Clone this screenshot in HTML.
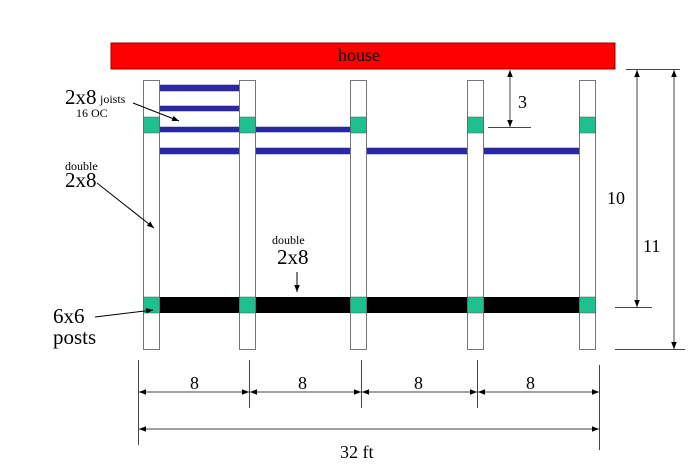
<!DOCTYPE html>
<html><head><style>body{margin:0;background:#fff}svg{display:block}text{font-family:"Liberation Serif",serif;fill:#000}</style></head><body>
<svg width="700" height="466" viewBox="0 0 700 466" xmlns="http://www.w3.org/2000/svg">
<defs><marker id="a" viewBox="0 0 10 10" refX="10" refY="5" markerWidth="7" markerHeight="7" orient="auto-start-reverse"><path d="M0,1L10,5L0,9z" fill="#000"/></marker></defs>
<rect x="111" y="43" width="504" height="26" fill="#f00" stroke="#900" stroke-width="1"/>
<text x="338" y="61" font-size="18">house</text>
<g fill="#2a2aa8" stroke="#1a1a80" stroke-width="0.5">
<rect x="159" y="85" width="80" height="6"/>
<rect x="159" y="106" width="80" height="5"/>
<rect x="159" y="127" width="191" height="5"/>
<rect x="159" y="148" width="420" height="6"/>
</g>
<rect x="159" y="297" width="420" height="16" fill="#000"/>
<g fill="#fff" stroke="#777" stroke-width="1">
<rect x="143.5" y="80.5" width="16" height="269"/>
<rect x="239.5" y="80.5" width="16" height="269"/>
<rect x="350.5" y="80.5" width="16" height="269"/>
<rect x="467.5" y="80.5" width="16" height="269"/>
<rect x="579.5" y="80.5" width="16" height="269"/>
</g>
<g fill="#1ec090" stroke="#555" stroke-width="0.5">
<rect x="143.5" y="117" width="16" height="16"/><rect x="239.5" y="117" width="16" height="16"/><rect x="350.5" y="117" width="16" height="16"/><rect x="467.5" y="117" width="16" height="16"/><rect x="579.5" y="117" width="16" height="16"/>
<rect x="143.5" y="297" width="16" height="16"/><rect x="239.5" y="297" width="16" height="16"/><rect x="350.5" y="297" width="16" height="16"/><rect x="467.5" y="297" width="16" height="16"/><rect x="579.5" y="297" width="16" height="16"/>
</g>
<g stroke="#000" stroke-width="1" fill="none">
<line x1="133" y1="103" x2="179" y2="121" marker-end="url(#a)"/>
<line x1="97" y1="183" x2="154" y2="228" marker-end="url(#a)"/>
<line x1="95" y1="317" x2="153" y2="310" marker-end="url(#a)"/>
<line x1="297" y1="272" x2="297" y2="292" marker-end="url(#a)"/>
</g>
<text x="65" y="104" font-size="21">2x8</text>
<text x="100" y="103" font-size="12">joists</text>
<text x="76" y="117" font-size="12">16 OC</text>
<text x="65" y="170" font-size="12">double</text>
<text x="65" y="187" font-size="21">2x8</text>
<text x="272" y="244" font-size="12">double</text>
<text x="277" y="264" font-size="21">2x8</text>
<text x="53" y="323" font-size="21">6x6</text>
<text x="53" y="344" font-size="21">posts</text>
<g stroke="#444" stroke-width="1" fill="none">
<line x1="488" y1="127.5" x2="531" y2="127.5"/>
<line x1="510" y1="70" x2="510" y2="127" marker-start="url(#a)" marker-end="url(#a)"/>
<line x1="626" y1="69.5" x2="680" y2="69.5"/>
<line x1="615" y1="307.5" x2="652" y2="307.5"/>
<line x1="615" y1="349.5" x2="685" y2="349.5"/>
<line x1="637" y1="70" x2="637" y2="307" marker-start="url(#a)" marker-end="url(#a)"/>
<line x1="674" y1="70" x2="674" y2="349" marker-start="url(#a)" marker-end="url(#a)"/>
<line x1="138.5" y1="360" x2="138.5" y2="445"/>
<line x1="249.5" y1="360" x2="249.5" y2="408"/>
<line x1="361.5" y1="360" x2="361.5" y2="408"/>
<line x1="477.5" y1="360" x2="477.5" y2="408"/>
<line x1="599.5" y1="365" x2="599.5" y2="450"/>
<line x1="139" y1="392" x2="249" y2="392" marker-start="url(#a)" marker-end="url(#a)"/>
<line x1="250" y1="392" x2="361" y2="392" marker-start="url(#a)" marker-end="url(#a)"/>
<line x1="362" y1="392" x2="477" y2="392" marker-start="url(#a)" marker-end="url(#a)"/>
<line x1="478" y1="392" x2="599" y2="392" marker-start="url(#a)" marker-end="url(#a)"/>
<line x1="139" y1="429" x2="599" y2="429" marker-start="url(#a)" marker-end="url(#a)"/>
</g>
<text x="518" y="108" font-size="18">3</text>
<text x="607" y="204" font-size="18">10</text>
<text x="643" y="252" font-size="18">11</text>
<text x="190" y="389" font-size="18">8</text>
<text x="298" y="389" font-size="18">8</text>
<text x="414" y="389" font-size="18">8</text>
<text x="526" y="389" font-size="18">8</text>
<text x="340" y="458" font-size="18">32 ft</text>
</svg>
</body></html>
